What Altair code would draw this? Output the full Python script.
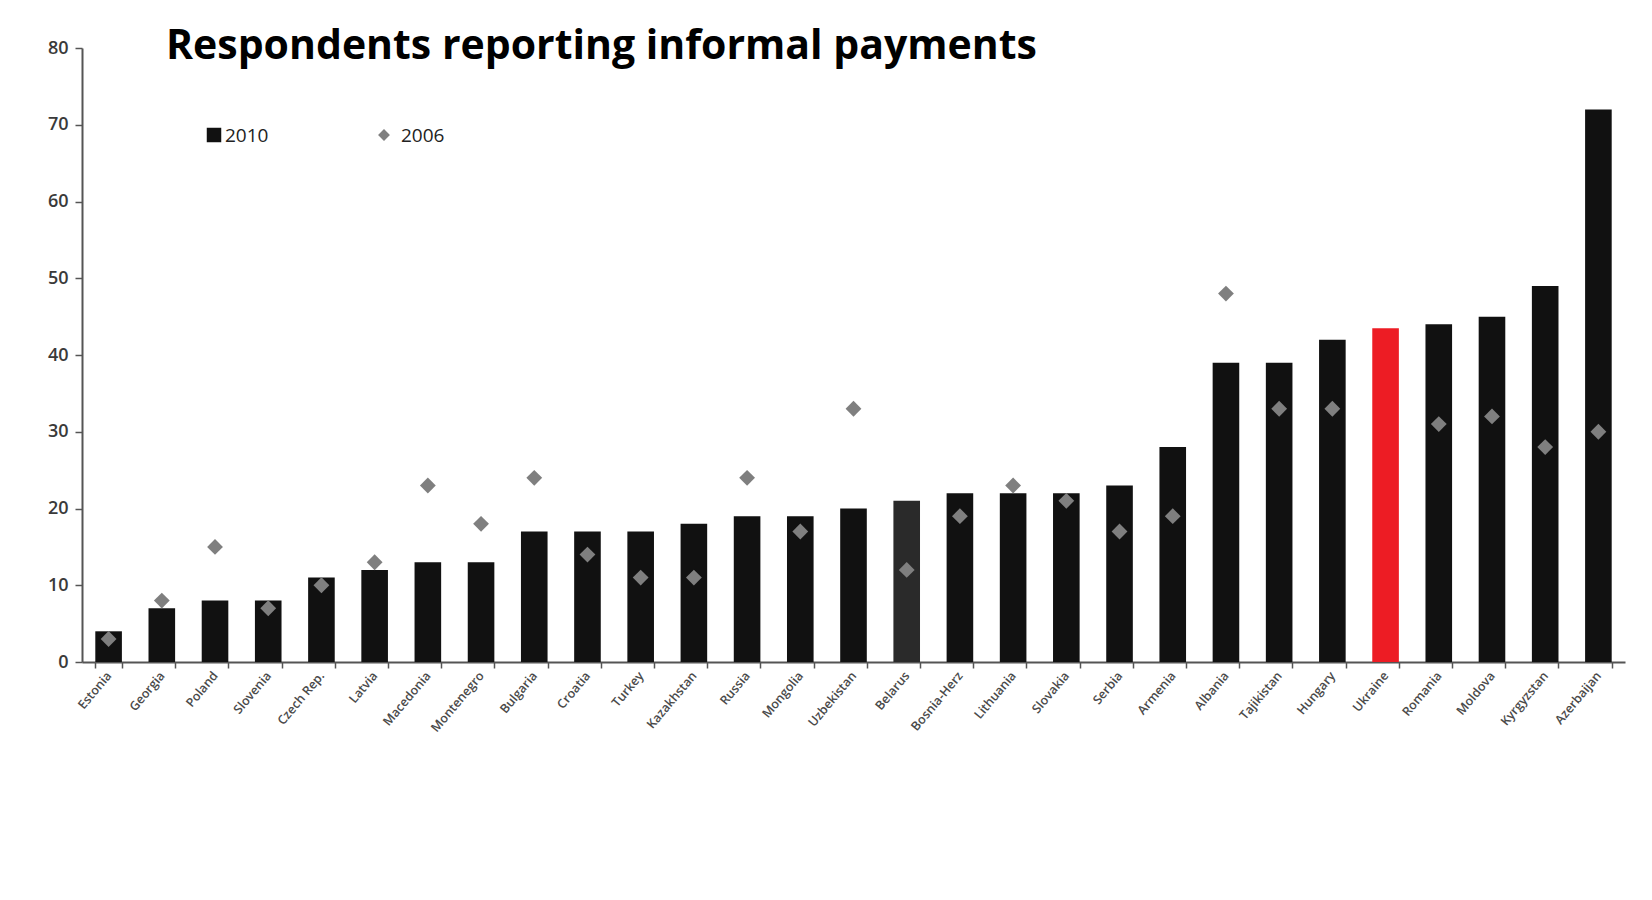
import altair as alt
import pandas as pd

countries = ["Estonia", "Georgia", "Poland", "Slovenia", "Czech Rep.", "Latvia", "Macedonia",
             "Montenegro", "Bulgaria", "Croatia", "Turkey", "Kazakhstan", "Russia", "Mongolia",
             "Uzbekistan", "Belarus", "Bosnia-Herz", "Lithuania", "Slovakia", "Serbia", "Armenia",
             "Albania", "Tajikistan", "Hungary", "Ukraine", "Romania", "Moldova", "Kyrgyzstan",
             "Azerbaijan"]
v2010 = [4, 7, 8, 8, 11, 12, 13, 13, 17, 17, 17, 18, 19, 19, 20, 21, 22, 22, 22, 23, 28,
         39, 39, 42, 43.5, 44, 45, 49, 72]
v2006 = [3, 8, 15, 7, 10, 13, 23, 18, 24, 14, 11, 11, 24, 17, 33, 12, 19, 23, 21, 17, 19,
         48, 33, 33, None, 31, 32, 28, 30]
bar_colors = ["#111111"] * len(countries)
bar_colors[countries.index("Belarus")] = "#2a2a2a"
bar_colors[countries.index("Ukraine")] = "#ed1c24"

title_text = "Respondents reporting informal payments"
legend_labels = ["2010", "2006"]

df = pd.DataFrame({"country": countries, "v2010": v2010, "v2006": v2006, "color": bar_colors})

FONT = "Open Sans"

x_enc = alt.X("country:N", sort=None,
              scale=alt.Scale(paddingInner=0.5, paddingOuter=0.25),
              axis=alt.Axis(title=None, labelAngle=-50, labelAlign="right", labelBaseline="middle",
                            labelFontSize=12.5, labelColor="#4a4a4a", labelFont=FONT, labelFontWeight=600,
                            tickBand="extent", tickSize=6, tickColor="#555555", tickWidth=1.5,
                            domainColor="#555555", domainWidth=2, labelPadding=5))

bars = alt.Chart(df).mark_bar().encode(
    x=x_enc,
    y=alt.Y("v2010:Q", scale=alt.Scale(domain=[0, 80], nice=False),
            axis=alt.Axis(title=None, values=list(range(0, 81, 10)), grid=False,
                          labelFontSize=18, labelColor="#3a3a3a", labelFont=FONT, labelFontWeight=600,
                          tickSize=7, tickColor="#555555", tickWidth=1.5,
                          domainColor="#555555", domainWidth=2, labelPadding=7)),
    color=alt.Color("color:N", scale=None),
)

diamonds = alt.Chart(df).transform_filter("datum.v2006 != null").mark_point(
    shape="diamond", filled=True, color="#7f7f7f", size=250, opacity=1
).encode(x=alt.X("country:N", sort=None), y=alt.Y("v2006:Q"))

title = alt.Chart(pd.DataFrame({"t": [title_text]})).mark_text(
    align="left", baseline="alphabetic", fontSize=41, fontWeight="bold", font=FONT, color="#000000"
).encode(x=alt.value(84), y=alt.value(11), text="t:N")

leg_sq = alt.Chart(pd.DataFrame({"t": [legend_labels[0]]})).mark_square(
    size=210, color="#111111", opacity=1
).encode(x=alt.value(132), y=alt.value(87))
leg_sq_t = alt.Chart(pd.DataFrame({"t": [legend_labels[0]]})).mark_text(
    align="left", baseline="middle", fontSize=19, font=FONT, color="#222222"
).encode(x=alt.value(143), y=alt.value(88), text="t:N")
leg_di = alt.Chart(pd.DataFrame({"t": [legend_labels[1]]})).mark_point(
    shape="diamond", filled=True, size=140, color="#7f7f7f", opacity=1
).encode(x=alt.value(302), y=alt.value(87))
leg_di_t = alt.Chart(pd.DataFrame({"t": [legend_labels[1]]})).mark_text(
    align="left", baseline="middle", fontSize=19, font=FONT, color="#222222"
).encode(x=alt.value(319), y=alt.value(88), text="t:N")

chart = alt.layer(bars, diamonds, title, leg_sq, leg_sq_t, leg_di, leg_di_t).properties(
    width=1543, height=614,
    autosize=alt.AutoSizeParams(type="none"),
    padding={"left": 74, "top": 40, "right": 19, "bottom": 228},
    background="white",
).configure_view(stroke=None)

chart.save("out.html", embed_options={"renderer": "svg", "actions": False})
